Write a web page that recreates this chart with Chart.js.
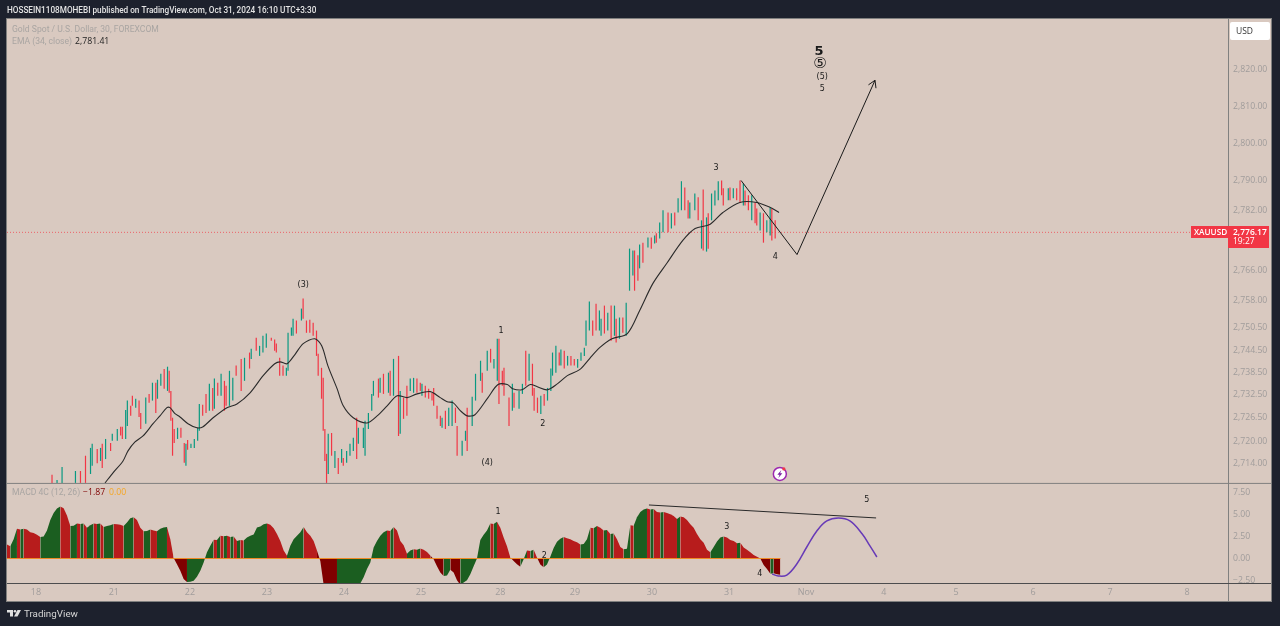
<!DOCTYPE html>
<html>
<head>
<meta charset="utf-8">
<title>XAUUSD 30</title>
<script src="https://cdn.jsdelivr.net/npm/chart.js@4/dist/chart.umd.js"></script>
<style>
html, body { margin: 0; padding: 0; background: #1d212d; overflow: hidden; }
canvas { display: block; }
</style>
</head>
<body>
<canvas id="goldChart" width="1280" height="626"></canvas>
<script>
// x axis runs in trading days counted from the 18th
const dayTicks = [0, 1.01, 2, 3, 4, 5, 6.03, 7, 8, 9, 10, 11.01, 11.95, 12.95, 13.95, 14.95];
const dayLabels = ['18', '21', '22', '23', '24', '25', '28', '29', '30', '31', 'Nov', '4', '5', '6', '7', '8'];
const priceTicks = [2714, 2720, 2726.5, 2732.5, 2738.5, 2744.5, 2750.5, 2758, 2766, 2782, 2790, 2800, 2810, 2820];
const macdTicks = [-2.5, 0, 2.5, 5, 7.5];
const lastPrice = 2776.17;

// 30 minute bar numbers, counted from the first visible bar
const candleBar = [
  0,3,6,14,17,20,23,24,27,29,
  30,32,35,36,39,41,42,44,45,47,
  48,50,52,53,56,58,60,62,63,65,
  67,69,70,71,72,73,75,77,79,80,
  81,83,85,87,88,90,92,94,96,97,
  99,101,103,104,106,108,110,113,115,118,
  119,122,124,126,128,131,133,134,136,138,
  140,141,143,144,146,149,150,152,154,156,
  158,159,161,162,163,164,165,167,169,171,
  173,174,176,178,180,182,183,186,187,189,
  191,192,195,196,198,201,202,204,207,208,
  210,212,214,216,218,220,221,223,225,227,
  228,230,232,233,235,237,239,241,242,245,
  247,248,251,253,256,257,260,262,264,266,
  267,269,270,273,275,276,279,281,283,285,
  287,288,290,292,294,296,298,299,301,303,
  304,306,308,310,312,314,316,318,319,321,
  323,325,327,328,330,332,334,336,337,339,
  341,343,345,347,348,350,351,353,356,358,
  360,361,363,365,368,370,372,374,376,378,
  380,381,384,386,388,389,391,392,394,396,
  398,400,401,404,405,407,409,411,413,414,
  416,418,420,421,423,425,427,429,430,432
];
const candleHigh = [
  2711.1,2709.7,2713.2,2712.1,2712.1,2716.2,2718.3,2719.4,2718.0,2718.3,
  2719.4,2720.7,2719.6,2722.1,2723.4,2724.0,2724.0,2728.5,2731.0,2729.6,
  2732.3,2731.5,2731.0,2727.7,2731.8,2732.8,2735.8,2735.8,2736.6,2738.2,
  2739.5,2740.1,2739.0,2733.6,2726.4,2723.4,2723.7,2723.7,2719.6,2719.4,
  2720.4,2719.4,2720.7,2723.7,2730.1,2729.9,2732.8,2735.5,2734.4,2736.9,
  2735.8,2738.2,2736.3,2735.0,2739.0,2737.1,2740.4,2742.2,2742.5,2743.9,
  2744.9,2747.9,2745.7,2748.4,2749.0,2747.9,2747.4,2746.3,2742.5,2740.4,
  2739.8,2749.2,2750.6,2753.0,2752.5,2755.7,2758.4,2752.5,2752.7,2751.9,
  2749.8,2743.6,2739.8,2737.1,2723.4,2716.7,2722.1,2722.3,2717.5,2715.6,
  2718.0,2715.6,2717.5,2719.4,2721.0,2726.4,2723.7,2723.7,2725.6,2727.7,
  2732.8,2736.3,2736.9,2737.1,2738.2,2738.5,2739.0,2742.2,2743.0,2733.6,
  2731.8,2735.0,2736.9,2737.1,2736.9,2735.8,2735.5,2735.0,2734.2,2733.1,
  2734.4,2729.6,2726.9,2726.4,2728.3,2729.1,2731.0,2729.1,2724.2,2720.2,
  2722.9,2729.1,2732.0,2738.2,2741.7,2738.5,2744.4,2744.9,2742.2,2747.6,
  2747.6,2739.0,2739.8,2731.8,2735.5,2733.1,2733.6,2735.5,2744.4,2743.6,
  2740.9,2734.4,2731.8,2732.3,2732.8,2734.4,2739.6,2743.9,2745.7,2743.9,
  2744.7,2744.4,2743.0,2743.0,2742.2,2742.2,2743.9,2745.2,2752.5,2757.6,
  2752.5,2757.0,2755.2,2753.0,2756.5,2754.6,2756.5,2756.5,2753.0,2753.3,
  2753.3,2757.3,2771.8,2771.3,2771.3,2770.0,2772.9,2773.4,2774.8,2774.8,
  2775.3,2775.9,2778.8,2782.1,2781.5,2781.3,2781.5,2785.3,2789.9,2788.2,
  2784.8,2784.2,2786.6,2785.6,2779.4,2787.7,2780.2,2781.3,2786.6,2787.4,
  2789.9,2790.1,2788.0,2788.0,2788.2,2788.0,2788.0,2790.1,2789.3,2787.4,
  2786.1,2786.1,2784.2,2782.6,2781.5,2781.3,2779.4,2782.9,2782.6,2779.4
];
const candleLow = [
  2708.9,2708.9,2708.9,2708.9,2708.9,2708.9,2711.3,2713.5,2714.2,2714.8,
  2712.9,2715.3,2717.5,2720.2,2720.2,2721.6,2720.7,2720.7,2724.2,2726.9,
  2729.6,2729.1,2726.6,2723.4,2724.8,2730.4,2731.0,2727.7,2731.5,2735.0,
  2734.2,2733.6,2733.1,2725.6,2716.2,2719.6,2720.7,2721.0,2714.3,2713.5,
  2717.8,2718.3,2718.3,2720.2,2722.9,2726.9,2727.7,2728.3,2728.3,2728.8,
  2732.3,2732.3,2728.3,2729.6,2729.6,2731.0,2737.7,2733.6,2736.3,2739.6,
  2742.2,2744.4,2743.0,2743.9,2745.2,2747.1,2744.4,2743.9,2737.7,2737.7,
  2737.7,2739.0,2748.4,2748.4,2749.0,2752.5,2753.0,2749.2,2749.2,2748.4,
  2743.0,2737.7,2731.5,2722.9,2714.8,2708.9,2711.3,2716.2,2712.9,2711.3,
  2714.3,2713.5,2714.3,2716.2,2717.5,2715.3,2719.4,2718.3,2716.2,2723.4,
  2728.3,2732.3,2731.8,2733.1,2732.8,2733.1,2732.3,2732.3,2721.5,2722.1,
  2726.1,2726.9,2733.6,2733.1,2733.1,2733.6,2732.3,2731.8,2731.5,2731.0,
  2729.6,2726.1,2724.2,2723.7,2723.4,2724.2,2724.2,2725.0,2716.2,2716.2,
  2720.2,2717.5,2724.2,2731.0,2736.3,2733.1,2739.0,2741.2,2739.6,2736.3,
  2730.1,2735.0,2732.3,2724.2,2728.3,2729.1,2728.8,2732.8,2735.0,2736.3,
  2732.3,2728.3,2727.7,2727.4,2729.6,2731.0,2733.6,2737.7,2738.5,2740.4,
  2740.4,2739.6,2740.4,2740.4,2740.4,2739.8,2741.7,2743.0,2745.7,2749.8,
  2748.4,2749.8,2749.8,2748.4,2749.0,2749.8,2747.1,2748.4,2746.6,2747.6,
  2749.2,2748.4,2760.5,2764.6,2760.5,2763.2,2766.5,2768.0,2772.1,2771.8,
  2773.2,2773.4,2774.5,2776.2,2776.2,2777.2,2778.0,2781.5,2782.1,2782.1,
  2779.9,2779.9,2782.1,2779.4,2771.8,2771.3,2771.0,2771.8,2779.4,2783.4,
  2784.8,2786.1,2783.4,2784.8,2784.8,2785.3,2784.8,2784.2,2783.4,2783.4,
  2782.1,2779.4,2778.6,2778.0,2776.7,2773.4,2776.2,2775.3,2774.0,2774.5
];
// 1 closed up, 0 closed down
const candleUp = [
  0,1,1,1,0,0,1,1,0,1,
  0,1,0,1,1,0,0,1,1,0,
  0,1,0,0,1,0,1,0,1,1,
  0,1,0,0,0,0,1,0,0,1,
  0,1,1,1,1,0,0,1,0,1,
  0,1,0,0,1,1,0,0,1,0,
  1,0,1,1,1,0,0,0,0,0,
  1,1,1,1,0,1,0,0,0,0,
  0,0,0,0,0,0,1,0,1,0,
  1,0,1,1,1,0,1,1,1,1,
  1,1,0,1,0,1,0,1,0,1,
  0,0,1,1,0,0,1,0,0,0,
  0,0,0,1,0,1,1,0,0,1,
  1,0,1,1,1,0,1,0,1,1,
  0,0,0,0,1,0,1,1,0,1,
  0,0,0,1,0,1,1,1,1,0,
  1,0,1,0,0,1,1,1,1,1,
  0,0,1,1,0,1,0,1,0,1,
  0,1,1,1,0,0,1,0,1,0,
  1,0,1,1,0,1,0,1,1,0,
  0,1,1,0,1,0,1,0,1,1,
  1,0,0,1,0,1,0,0,1,0,
  0,1,0,0,1,0,1,1,0,0
];

const emaDay = [
  0.896,1.0,1.13,1.195,1.286,1.39,1.52,1.61,1.70,1.74,
  1.805,1.87,1.974,2.09,2.17,2.30,2.48,2.61,2.78,2.95,
  3.10,3.17,3.26,3.36,3.47,3.62,3.71,3.79,3.91,3.99,
  4.12,4.30,4.43,4.56,4.69,4.82,4.95,5.12,5.25,5.34,
  5.42,5.51,5.60,5.70,5.87,6.0,6.12,6.19,6.31,6.42,
  6.51,6.64,6.77,6.90,7.06,7.19,7.32,7.48,7.68,7.84,
  8.01,8.19,8.40,8.56,8.75,8.92,9.14,9.36,9.53,9.65
];
const emaValue = [
  2708.9,2711.6,2714.8,2717.5,2719.9,2721.5,2724.8,2726.9,2729.1,2729.1,
  2727.5,2726.6,2724.8,2723.7,2724.0,2726.4,2729.1,2730.1,2733.1,2737.7,
  2740.9,2741.4,2740.9,2743.3,2746.3,2747.6,2745.7,2740.4,2734.2,2729.6,
  2726.4,2725.0,2726.9,2729.6,2732.3,2731.8,2732.8,2733.4,2731.8,2730.7,
  2730.4,2728.3,2726.9,2727.2,2731.8,2735.3,2735.3,2734.2,2733.9,2735.3,
  2734.7,2733.9,2735.5,2737.7,2739.3,2742.3,2745.2,2747.6,2749.0,2755.2,
  2762.4,2767.8,2774.0,2777.2,2778.3,2781.5,2784.2,2784.2,2782.9,2781.5
];

// hand drawn wave projection on the price pane
const waveDay = [9.156, 9.883, 10.896];
const wavePrice = [2790.1, 2770.2, 2817.0];

// MACD histogram, one value per hour from the left edge of the chart
const macdFirstDay = -0.377;
const macdBarsPerDay = 23.1;
const macdValue = [
  1.6,1.4,2.2,3.4,3.3,3.4,3.3,3.0,2.9,2.7,
  2.45,2.5,3.2,4.4,5.2,5.7,5.95,5.75,4.9,3.7,
  3.75,4.0,3.95,4.0,3.5,3.8,4.0,3.95,4.0,3.6,
  3.7,3.8,3.95,3.9,3.85,3.7,4.1,4.6,4.7,4.4,
  3.5,3.1,3.15,3.3,3.2,3.1,3.4,3.55,3.6,2.2,
  0.05,-0.65,-1.4,-2.35,-2.7,-2.65,-2.55,-2.1,-1.4,-0.45,
  0.7,1.45,2.15,2.1,2.6,2.55,2.6,2.45,2.5,2.0,
  2.1,2.05,2.4,2.6,2.75,3.55,3.65,3.9,4.0,3.85,
  3.45,2.8,2.0,0.9,0.3,1.45,2.2,2.6,3.0,3.6,
  3.0,2.6,2.0,0.9,-0.3,-3.0,-3.6,-4.0,-4.3,-4.5,
  -4.3,-4.1,-3.9,-3.7,-3.4,-3.1,-2.85,-2.15,-1.2,-0.45,
  1.25,2.0,2.6,3.0,3.2,3.15,3.6,3.2,2.0,1.5,
  0.55,0.9,1.05,1.0,1.15,1.0,0.75,0.35,-0.1,-0.9,
  -1.6,-2.0,-1.95,-1.3,-1.6,-2.5,-3.0,-2.75,-2.5,-1.8,
  -0.9,0.0,2.1,2.7,3.2,4.0,3.95,4.2,3.5,2.4,
  1.4,0.1,-0.3,-0.65,-0.95,-0.1,0.9,0.85,1.0,0.1,
  -0.7,-1.0,-0.7,0.2,1.2,1.9,2.25,2.45,2.3,2.2,
  2.0,1.85,1.6,1.65,2.2,3.5,3.45,3.7,3.5,3.2,
  3.25,2.8,2.85,2.2,1.3,1.05,1.1,3.8,3.75,4.7,
  5.3,5.6,5.7,5.6,5.65,5.3,5.25,5.3,5.2,5.05,
  4.85,4.5,4.8,4.7,4.4,3.9,3.5,2.8,2.2,1.8,
  1.0,0.7,1.3,1.95,2.4,2.5,2.4,2.1,2.0,1.75,
  1.8,1.25,1.0,0.7,0.4,0.2,0.0,-0.75,-1.2,-1.75,
  -1.7,-1.8,-1.87
];
const trendDay = [7.96, 10.91];
const trendValue = [6.11, 4.63];
const curveDay = [9.56, 9.64, 9.75, 9.88, 10.01, 10.14, 10.27, 10.42, 10.57, 10.73, 10.83, 10.92];
const curveValue = [-1.77, -2.0, -1.89, -0.63, 1.31, 3.14, 4.29, 4.63, 4.29, 2.8, 1.43, 0.17];

// elliott wave labels: [day, value, text, font]
const priceLabels = [
  [10.17, 2824.8, '5', 'bold 13px "DejaVu Sans"'],
  [10.18, 2821.6, '⑤', '15px "DejaVu Sans"'],
  [10.21, 2818.1, '(5)', '8px "DejaVu Sans"'],
  [10.21, 2814.9, '5', '8px "DejaVu Sans"'],
  [3.47, 2762.4, '(3)', '8px "DejaVu Sans"'],
  [6.04, 2750.0, '1', '8px "DejaVu Sans"'],
  [6.58, 2725.0, '2', '8px "DejaVu Sans"'],
  [5.86, 2714.5, '(4)', '8px "DejaVu Sans"'],
  [8.83, 2793.6, '3', '8px "DejaVu Sans"'],
  [9.6, 2769.7, '4', '8px "DejaVu Sans"']
];
const macdLabels = [
  [6.0, 5.43, '1'],
  [6.6, 0.4, '2'],
  [8.97, 3.71, '3'],
  [9.4, -1.66, '4'],
  [10.79, 6.8, '5']
];

const uiFont = '"Open Sans"';
const textFont = 'Roboto';
const panelColor = '#d9c9c0';
const darkColor = '#1d212d';
const axisTextColor = '#a09c9b';
const candleUpColor = '#089981';
const candleDownColor = '#f23645';
const macdRiseColor = '#1b5e20';
const macdFallColor = '#b71c1c';
const macdLowFallColor = '#7f0000';

function macdColor(value, i) {
  const rising = i > 0 && value > macdValue[i - 1];
  if (value >= 0) return rising ? macdRiseColor : macdFallColor;
  return rising ? macdRiseColor : macdLowFallColor;
}

function drawText(ctx, text, x, y, font, color, align) {
  ctx.font = font;
  ctx.fillStyle = color;
  ctx.textAlign = align || 'left';
  ctx.textBaseline = 'middle';
  ctx.fillText(text, x, y + 0.8);
}

const panelPlugin = {
  id: 'panel',
  beforeDraw(chart) {
    const { ctx, chartArea: a } = chart;
    ctx.save();
    ctx.fillStyle = darkColor;
    ctx.fillRect(0, 0, chart.width, chart.height);
    ctx.fillStyle = panelColor;
    ctx.fillRect(a.left, a.top, a.right + 43 - a.left, a.bottom + 18 - a.top);
    ctx.restore();
  },
  afterDraw(chart) {
    const { ctx, chartArea: a, scales } = chart;
    ctx.save();
    // pane frame
    ctx.lineWidth = 1;
    ctx.strokeStyle = '#80807f';
    ctx.strokeRect(a.left - 0.5, a.top - 0.5, a.right + 43 - a.left + 1, a.bottom + 18 - a.top + 1);
    ctx.beginPath();
    ctx.moveTo(a.left, scales.y.bottom + 0.5);
    ctx.lineTo(a.right + 43, scales.y.bottom + 0.5);
    ctx.moveTo(a.right + 0.5, a.top);
    ctx.lineTo(a.right + 0.5, a.bottom + 18);
    ctx.stroke();
    ctx.strokeStyle = '#4c4c4e';
    ctx.beginPath();
    ctx.moveTo(a.left, a.bottom + 0.5);
    ctx.lineTo(a.right + 43, a.bottom + 0.5);
    ctx.stroke();

    // arrow head on the projection
    const x1 = scales.x.getPixelForValue(waveDay[1]);
    const y1 = scales.y.getPixelForValue(wavePrice[1]);
    const x2 = scales.x.getPixelForValue(waveDay[2]);
    const y2 = scales.y.getPixelForValue(wavePrice[2]);
    const angle = Math.atan2(y2 - y1, x2 - x1);
    ctx.strokeStyle = '#1a1a1a';
    ctx.beginPath();
    ctx.moveTo(x2 + 8 * Math.cos(angle + 2.6), y2 + 8 * Math.sin(angle + 2.6));
    ctx.lineTo(x2, y2);
    ctx.lineTo(x2 + 8 * Math.cos(angle - 2.6), y2 + 8 * Math.sin(angle - 2.6));
    ctx.stroke();

    priceLabels.forEach(([d, v, t, f]) => {
      drawText(ctx, t, scales.x.getPixelForValue(d), scales.y.getPixelForValue(v), f, '#1a1a1a', 'center');
    });
    macdLabels.forEach(([d, v, t]) => {
      drawText(ctx, t, scales.x.getPixelForValue(d), scales.y2.getPixelForValue(v), '8px "DejaVu Sans"', '#1a1a1a', 'center');
    });

    // header and legends
    drawText(ctx, 'HOSSEIN1108MOHEBI published on TradingView.com, Oct 31, 2024 16:10 UTC+3:30', 7, 10, '500 8.2px ' + textFont, '#e4e4e4');
    drawText(ctx, 'Gold Spot / U.S. Dollar, 30, FOREXCOM', 12, 29, '8.6px ' + textFont, '#a9a5a2');
    drawText(ctx, 'EMA (34, close)', 12, 41, '8.6px ' + textFont, '#a9a5a2');
    drawText(ctx, '2,781.41', 75, 41, '8.7px ' + uiFont, '#222222');
    drawText(ctx, 'MACD 4C (12, 26)', 12, 492, '8.6px ' + textFont, '#a9a5a2');
    drawText(ctx, '−1.87', 83, 492, '8.7px ' + uiFont, '#7f0000');
    drawText(ctx, '0.00', 109, 492, '8.7px ' + uiFont, '#f5a623');

    // price tags
    ctx.fillStyle = '#ffffff';
    ctx.beginPath();
    ctx.roundRect(1230, 22, 40, 18, 2);
    ctx.fill();
    drawText(ctx, 'USD', 1236, 31, '8.5px ' + uiFont, '#333333');
    ctx.fillStyle = '#f23645';
    ctx.fillRect(1191, 226, 37, 12);
    ctx.fillRect(1228, 226, 41, 22);
    drawText(ctx, 'XAUUSD', 1194, 232, '600 8.2px ' + uiFont, '#ffffff');
    drawText(ctx, '2,776.17', 1233, 232, '600 8.5px ' + uiFont, '#ffffff');
    drawText(ctx, '19:27', 1233, 241, '8.5px ' + uiFont, '#ffffff');

    // flash icon on the time axis of the price pane
    const ix = scales.x.getPixelForValue(9.66);
    const iy = scales.y.getPixelForValue(2711.3);
    ctx.fillStyle = '#ffffff';
    ctx.strokeStyle = '#9c27b0';
    ctx.lineWidth = 1.5;
    ctx.beginPath();
    ctx.arc(ix, iy, 6.5, 0, Math.PI * 2);
    ctx.fill();
    ctx.stroke();
    ctx.fillStyle = '#7b1fa2';
    ctx.beginPath();
    ctx.moveTo(ix + 1.5, iy - 4);
    ctx.lineTo(ix - 2.5, iy + 0.8);
    ctx.lineTo(ix - 0.3, iy + 0.8);
    ctx.lineTo(ix - 1.5, iy + 4);
    ctx.lineTo(ix + 2.5, iy - 0.8);
    ctx.lineTo(ix + 0.3, iy - 0.8);
    ctx.closePath();
    ctx.fill();
    ctx.fillStyle = '#f23645';
    ctx.beginPath();
    ctx.arc(ix + 4, iy - 5, 1.6, 0, Math.PI * 2);
    ctx.fill();

    // TradingView mark
    ctx.fillStyle = '#e0e0e0';
    ctx.fillRect(7, 610, 6, 2.5);
    ctx.fillRect(10, 610, 3, 6.5);
    ctx.beginPath();
    ctx.arc(15, 611.3, 1.3, 0, Math.PI * 2);
    ctx.fill();
    ctx.beginPath();
    ctx.moveTo(17.5, 610);
    ctx.lineTo(21, 610);
    ctx.lineTo(17.5, 616.5);
    ctx.lineTo(14, 616.5);
    ctx.closePath();
    ctx.fill();
    drawText(ctx, 'TradingView', 24, 613.5, '9.8px ' + textFont, '#d5d5d5');
    ctx.restore();
  }
};

const candleX = candleBar.map(n => 0.208 + n / 46);
const candleColors = candleUp.map(u => (u ? candleUpColor : candleDownColor));
const macdX = macdValue.map((_, i) => macdFirstDay + i / macdBarsPerDay);
const xMin = -0.3766;

new Chart(document.getElementById('goldChart').getContext('2d'), {
  type: 'bar',
  plugins: [panelPlugin],
  data: {
    datasets: [
      {
        type: 'line',
        label: 'Price line',
        data: [{ x: xMin, y: lastPrice }, { x: 15.48, y: lastPrice }],
        yAxisID: 'y',
        borderColor: 'rgba(242, 54, 69, 0.7)',
        borderWidth: 1,
        borderDash: [1, 2],
        pointRadius: 0,
        order: 4
      },
      {
        label: 'Candles',
        data: candleX.map((x, i) => ({ x: x, y: [candleLow[i], candleHigh[i]] })),
        yAxisID: 'y',
        backgroundColor: candleColors,
        barThickness: 1.2,
        inflateAmount: 0,
        grouped: false,
        order: 3
      },
      {
        type: 'line',
        label: 'EMA',
        data: emaDay.map((x, i) => ({ x: x, y: emaValue[i] })),
        yAxisID: 'y',
        borderColor: '#2a2a2a',
        borderWidth: 1.1,
        tension: 0.3,
        pointRadius: 0,
        order: 1
      },
      {
        type: 'line',
        label: 'Projection',
        data: waveDay.map((x, i) => ({ x: x, y: wavePrice[i] })),
        yAxisID: 'y',
        borderColor: '#1a1a1a',
        borderWidth: 1,
        pointRadius: 0,
        order: 0
      },
      {
        type: 'line',
        label: 'MACD',
        data: macdX.map((x, i) => ({ x: x, y: macdValue[i] })),
        yAxisID: 'y2',
        borderWidth: 0,
        borderColor: 'transparent',
        backgroundColor: macdFallColor,
        fill: 'origin',
        pointRadius: 0,
        segment: {
          backgroundColor: ctx => macdColor(ctx.p1.parsed.y, ctx.p1DataIndex)
        },
        order: 3
      },
      {
        type: 'line',
        label: 'Signal',
        data: [{ x: xMin, y: 0 }, { x: macdX[macdX.length - 1], y: 0 }],
        yAxisID: 'y2',
        borderColor: '#ee8a25',
        borderWidth: 1.1,
        pointRadius: 0,
        order: 1
      },
      {
        type: 'line',
        label: 'Trend',
        data: trendDay.map((x, i) => ({ x: x, y: trendValue[i] })),
        yAxisID: 'y2',
        borderColor: '#2a2a2a',
        borderWidth: 1,
        pointRadius: 0,
        order: 0
      },
      {
        type: 'line',
        label: 'Curve',
        data: curveDay.map((x, i) => ({ x: x, y: curveValue[i] })),
        yAxisID: 'y2',
        borderColor: '#673ab7',
        borderWidth: 1.5,
        tension: 0.4,
        pointRadius: 0,
        order: 0
      }
    ]
  },
  options: {
    responsive: false,
    animation: false,
    layout: { padding: { left: 7, top: 19, right: 9, bottom: 25 } },
    plugins: { legend: { display: false }, tooltip: { enabled: false } },
    events: [],
    scales: {
      x: {
        type: 'linear',
        offset: false,
        min: xMin,
        max: 15.48,
        grid: { display: false, offset: false, tickLength: 0 },
        border: { display: false },
        afterBuildTicks: scale => { scale.ticks = dayTicks.map(v => ({ value: v })); },
        afterFit: scale => { scale.height = 18; },
        ticks: {
          autoSkip: false,
          maxRotation: 0,
          padding: 4,
          color: axisTextColor,
          font: { family: uiFont, size: 9 },
          callback: (value, index) => dayLabels[index]
        }
      },
      y: {
        type: 'linear',
        position: 'right',
        stack: 'panes',
        stackWeight: 463.5,
        min: 2708.9,
        max: 2833.45,
        grid: { display: false, drawTicks: false },
        border: { display: false },
        afterBuildTicks: scale => { scale.ticks = priceTicks.map(v => ({ value: v })); },
        afterFit: scale => { scale.width = 43; },
        ticks: {
          autoSkip: false,
          padding: 5,
          color: axisTextColor,
          font: { family: uiFont, size: 8.7 },
          callback: v => v.toLocaleString('en-US', { minimumFractionDigits: 2, maximumFractionDigits: 2 })
        }
      },
      y2: {
        type: 'linear',
        position: 'right',
        stack: 'panes',
        stackWeight: 100,
        min: -2.8,
        max: 8.63,
        grid: { display: false, drawTicks: false },
        border: { display: false },
        afterBuildTicks: scale => { scale.ticks = macdTicks.map(v => ({ value: v })); },
        afterFit: scale => { scale.width = 43; },
        ticks: {
          autoSkip: false,
          padding: 5,
          color: axisTextColor,
          font: { family: uiFont, size: 8.7 },
          callback: v => v.toFixed(2).replace('-', '−')
        }
      }
    }
  }
});
</script>
</body>
</html>
